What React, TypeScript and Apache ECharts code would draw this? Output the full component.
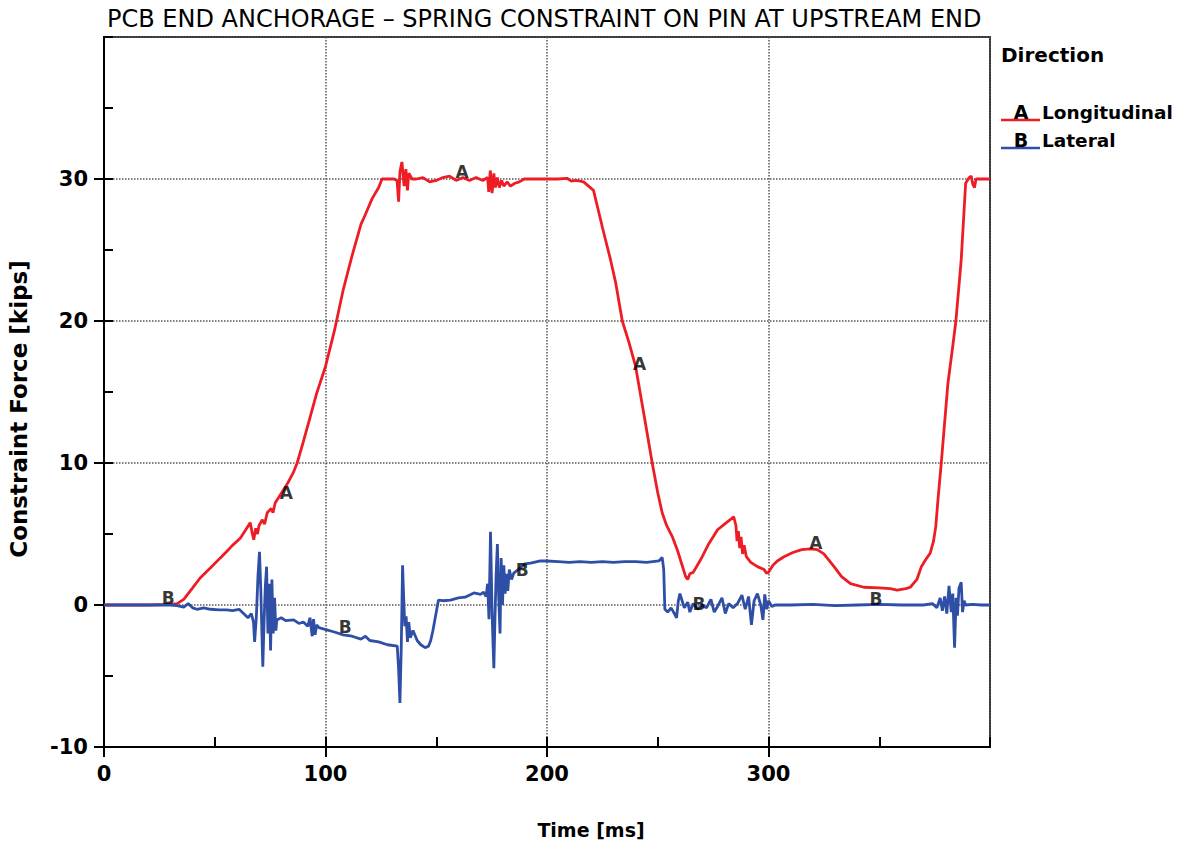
import React, { useEffect, useRef } from "react";
import * as echarts from "echarts";

const titleText = "PCB END ANCHORAGE \u2013 SPRING CONSTRAINT ON PIN AT UPSTREAM END";
const xName = "Time [ms]";
const yName = "Constraint Force [kips]";
const legendTitle = "Direction";
const seriesNames = ["Longitudinal", "Lateral"];
const seriesTags = ["A", "B"];
const seriesColors = ["#ee1c25", "#2f4fa6"];

// Curve A (Longitudinal): [time ms, force kips]
const curveA: number[][] = [
  [0, 0], [10, 0], [20, 0], [30, 0.05], [33, 0.1], [36, 0.4], [40, 1.2], [43.4, 1.9], [48, 2.6], [52.4, 3.3],
  [55.6, 3.8], [58, 4.2], [61.5, 4.7], [64, 5.3], [66, 5.8], [67, 5.0], [67.6, 4.6], [68.5, 5.4], [69.3, 5.0],
  [70, 5.6], [71.5, 6.0], [72.5, 5.7], [73.7, 6.5], [75.5, 6.8], [76.3, 6.5], [77.3, 7.2], [79, 7.6], [81, 8.1],
  [83, 8.6], [85.4, 9.3], [87.2, 10], [90, 11.5], [93, 13.2], [96, 14.9], [100, 16.8], [104, 19.3], [108, 22.2],
  [112, 24.6], [116, 26.8], [118, 27.5], [121, 28.6], [124, 29.4], [125.5, 30], [128, 30], [131, 30],
  [132.3, 29.9], [133, 28.4], [133.6, 30.5], [134.5, 31.2], [135.5, 29.5], [136.3, 30.7], [137, 29.2],
  [137.6, 30.4], [138.4, 30.2], [139, 30], [141, 30], [144, 30.1], [147, 29.8], [150, 29.9], [153, 30.1],
  [156, 30.2], [159, 29.9], [162, 30.1], [165, 29.9], [168, 30.1], [171, 29.9], [173.2, 30.1], [173.7, 29.1],
  [174.4, 30.6], [175.2, 29.0], [176, 30.4], [176.7, 29.4], [177.6, 30.1], [178.5, 29.4], [179.5, 29.9],
  [180.5, 29.5], [182, 29.8], [183.5, 29.5], [185.5, 29.7], [187.5, 29.8], [189.7, 30], [195, 30], [200, 30],
  [205, 30], [209, 30.05], [211, 29.85], [213, 29.9], [215, 29.85], [216.5, 29.8], [218, 29.6], [221, 29.2],
  [225, 26.6], [228.7, 24.3], [231, 22.7], [234, 20], [237, 18.5], [240, 16.8], [244, 13.2], [247.5, 10],
  [250, 7.9], [252, 6.5], [254, 5.6], [256.6, 4.8], [259, 3.8], [261, 2.8], [262.6, 2.0], [263.5, 1.8],
  [264.5, 2.2], [266, 2.3], [269.4, 3.2], [273, 4.3], [277, 5.3], [281, 5.8], [284.3, 6.2], [285.3, 5.6],
  [285.8, 4.5], [286.4, 5.2], [287, 4.0], [287.6, 4.8], [288.3, 3.6], [289, 4.2], [290, 3.4], [292, 3.0],
  [295, 2.7], [298, 2.5], [299, 2.25], [300, 2.3], [302, 2.8], [304, 3.1], [307, 3.4], [311, 3.7], [315, 3.9],
  [319, 3.95], [322, 3.9], [325, 3.6], [329.6, 2.7], [333, 2.0], [337, 1.5], [343, 1.25], [350, 1.2],
  [355, 1.15], [358, 1.05], [362, 1.15], [364, 1.25], [367, 1.8], [369, 2.7], [371, 3.2], [373, 3.65],
  [374.5, 4.5], [375.5, 5.5], [376.5, 7.4], [378, 10], [379.5, 12.8], [381, 15.6], [383, 18], [384.6, 20],
  [386, 22.5], [387, 24.3], [388, 27], [389, 29.7], [390.6, 30.1], [391.5, 30.2], [392.3, 29.6], [393, 29.4],
  [393.7, 30], [396, 30], [400, 30],
];

// Curve B (Lateral): [time ms, force kips]
const curveB: number[][] = [
  [0, 0], [10, 0], [20, 0], [30, 0], [33, -0.05], [36, -0.15], [38, 0.1], [40, -0.2], [42, -0.3], [45, -0.2],
  [48, -0.3], [52, -0.35], [55.5, -0.35], [58, -0.4], [61, -0.3], [63, -0.6], [65, -0.9], [66.5, -0.6],
  [67.5, -1.2], [68, -2.6], [68.8, -0.8], [69.5, 2.0], [70.2, 3.75], [70.8, 1.0], [71.3, -2.0], [71.7, -4.35],
  [72.2, -1.5], [72.8, 1.2], [73.4, 2.7], [74, -2.0], [74.6, 1.5], [75.2, -3.2], [75.8, 1.8], [76.4, -2.0],
  [77, 0.5], [77.6, -1.8], [78, -1.05], [80, -0.9], [82, -1.1], [85.6, -1.05], [88, -1.3], [90, -1.2],
  [92, -1.5], [93, -0.9], [94, -2.2], [94.6, -1.0], [95.3, -2.1], [96, -1.4], [97, -1.6], [100.6, -1.75],
  [104, -1.9], [108, -2.1], [112, -2.2], [116, -2.4], [118, -2.2], [120, -2.5], [124, -2.6], [128, -2.8],
  [132.4, -2.9], [133, -4.5], [133.6, -6.9], [134.2, -3.0], [134.8, 2.8], [135.3, 0.5], [135.8, -1.5],
  [136.4, -0.8], [137, -2.6], [137.6, -1.2], [138.3, -2.3], [139.5, -1.8], [141.4, -2.5], [143, -2.8],
  [145, -3.0], [146.5, -2.9], [147.5, -2.5], [148.5, -1.8], [149.6, -0.85], [151, 0.35], [153, 0.3],
  [156.4, 0.35], [160, 0.5], [163, 0.55], [167, 0.85], [170, 0.75], [171.4, 0.9], [172.5, 0.6], [173.2, 1.5],
  [173.8, -1.0], [174.5, 5.15], [175.2, -0.5], [175.7, -3.0], [176, -4.45], [176.5, -1.0], [177, 2.0],
  [177.6, 4.3], [178.2, 0.5], [178.8, -2.0], [179.3, 3.3], [179.9, 0.0], [180.5, 2.8], [181.1, 0.8],
  [181.7, 2.2], [182.3, 1.0], [183, 2.5], [184, 1.8], [185, 2.25], [187, 2.5], [190, 2.9], [192.6, 2.95],
  [197, 3.1], [200, 3.1], [205, 3.05], [210, 3.0], [215, 3.05], [220, 3.0], [225, 3.05], [230, 3.0],
  [235, 3.05], [240, 3.05], [245, 3.0], [250.5, 3.1], [252, 3.35], [252.7, 2.5], [253.2, -0.3], [254.5, -0.5],
  [256, -0.2], [257.5, -0.6], [258.5, -0.9], [259.3, 0.3], [260, 0.8], [261, 0.3], [262, -0.2], [263.5, 0.2],
  [264.5, -0.5], [266, 0.1], [268, -0.3], [270, 0.0], [272, -0.2], [274, 0.4], [275.5, -0.5], [277, -0.1],
  [279, 0.5], [280.5, -0.6], [282, 0.1], [284, -0.2], [286, 0.1], [288, 0.7], [289.5, -0.3], [291, 0.6],
  [292.3, -1.4], [293.5, 0.3], [295, 0.8], [296.5, 0.0], [297.5, -1.05], [298.3, 0.75], [299.2, -0.3],
  [300, 0.3], [301.5, -0.1], [303, 0.0], [310, 0.0], [320, 0.05], [330, -0.05], [340, 0.0], [350, 0.05],
  [360, 0.0], [370, 0.0], [374, 0.1], [376, -0.2], [377.5, 0.5], [378.5, -0.4], [379.5, 0.6], [380.5, -0.6],
  [381.5, 1.35], [382.5, -0.5], [383.2, 0.8], [384, -3.0], [384.7, 0.5], [385.3, -0.75], [386, 1.2],
  [387, 1.6], [387.6, -0.5], [388.3, 0.3], [389, 0.0], [392, 0.05], [396, 0.0], [400, 0.0],
];

// Curve tag positions (letters drawn along each curve)
const tagsA: number[][] = [[82.3, 7.9], [161.7, 30.5], [241.8, 17.0], [321.4, 4.35]];
const tagsB: number[][] = [[29.0, 0.47], [108.9, -1.57], [188.8, 2.46], [268.6, 0.07], [348.5, 0.42]];

const xMin = 0, xMax = 400, xStep = 100, xMinorStep = 50;
const yMin = -10, yMax = 40, yStep = 10, yMinorStep = 5;

const FONT = "DejaVu Sans";

export default function App() {
  const ref = useRef<HTMLDivElement>(null);
  useEffect(() => {
    if (!ref.current) return;
    const chart = echarts.init(ref.current, null, { renderer: "svg" });
    const gridLeft = 104, gridTop = 37, gridW = 886, gridH = 710;
    const tagSeries = (name: string, data: number[][], tag: string) => ({
      name,
      type: "scatter",
      data,
      symbolSize: 1,
      itemStyle: { color: "rgba(0,0,0,0)" },
      silent: true,
      z: 5,
      label: {
        show: true,
        position: "inside",
        formatter: tag,
        color: "#000",
        fontFamily: FONT,
        fontWeight: "bold",
        fontSize: 17,
      },
    });
    const legendY = [112, 140];
    const graphics: any[] = [
      {
        type: "text",
        left: 1001,
        top: 45,
        style: { text: legendTitle, fontFamily: FONT, fontWeight: "bold", fontSize: 20, fill: "#000" },
      },
      {
        type: "text",
        x: 591,
        y: 830,
        style: { text: xName, fontFamily: FONT, fontWeight: "bold", fontSize: 19, fill: "#000", align: "center", verticalAlign: "middle" },
      },
      {
        type: "text",
        x: 19,
        y: 409,
        rotation: Math.PI / 2,
        style: { text: yName, fontFamily: FONT, fontWeight: "bold", fontSize: 23, fill: "#000", align: "center", verticalAlign: "middle" },
      },
    ];
    seriesNames.forEach((n, i) => {
      graphics.push({
        type: "line",
        shape: { x1: 1001, y1: legendY[i] + 8, x2: 1040, y2: legendY[i] + 8 },
        style: { stroke: seriesColors[i], lineWidth: 2.5 },
      });
      graphics.push({
        type: "text",
        x: 1021,
        y: legendY[i],
        style: { text: seriesTags[i], fontFamily: FONT, fontWeight: "bold", fontSize: 19, fill: "#000", align: "center", verticalAlign: "middle" },
      });
      graphics.push({
        type: "text",
        x: 1042,
        y: legendY[i],
        style: { text: n, fontFamily: FONT, fontWeight: "bold", fontSize: 18.5, fill: "#000", align: "left", verticalAlign: "middle" },
      });
    });
    chart.setOption({
      animation: false,
      backgroundColor: "#fff",
      title: {
        text: titleText,
        left: 102,
        top: 2,
        textStyle: { fontFamily: FONT, fontSize: 24, fontWeight: "normal", color: "#000" },
      },
      grid: {
        left: gridLeft,
        top: gridTop,
        width: gridW,
        height: gridH,
        show: true,
        borderColor: "#333",
        borderWidth: 2,
      },
      xAxis: [
        {
          type: "value",
          min: xMin,
          max: xMax,
          interval: xStep,
          position: "bottom",
          axisLine: { show: true, onZero: false, lineStyle: { color: "#000", width: 2 } },
          axisTick: { show: true, inside: false, length: 10, lineStyle: { color: "#000", width: 2 } },
          axisLabel: {
            show: true,
            margin: 16,
            showMaxLabel: false,
            fontFamily: FONT,
            fontWeight: "bold",
            fontSize: 21,
            color: "#000",
          },
          splitLine: { show: true, lineStyle: { color: "#555", type: "dotted", width: 1.5 } },
        },
        {
          type: "value",
          min: xMin,
          max: xMax,
          interval: xMinorStep,
          position: "bottom",
          axisLine: { show: false, onZero: false },
          axisTick: { show: true, inside: true, length: 10, lineStyle: { color: "#000", width: 2 } },
          axisLabel: { show: false },
          splitLine: { show: false },
        },
      ],
      yAxis: [
        {
          type: "value",
          min: yMin,
          max: yMax,
          interval: yStep,
          position: "left",
          axisLine: { show: true, onZero: false, lineStyle: { color: "#000", width: 2 } },
          axisTick: { show: true, inside: false, length: 10, lineStyle: { color: "#000", width: 2 } },
          axisLabel: {
            show: true,
            margin: 16,
            showMaxLabel: false,
            fontFamily: FONT,
            fontWeight: "bold",
            fontSize: 21,
            color: "#000",
          },
          splitLine: { show: true, lineStyle: { color: "#555", type: "dotted", width: 1.5 } },
        },
        {
          type: "value",
          min: yMin,
          max: yMax,
          interval: yMinorStep,
          position: "left",
          axisLine: { show: false, onZero: false },
          axisTick: { show: true, inside: true, length: 9, lineStyle: { color: "#000", width: 2 } },
          axisLabel: { show: false },
          splitLine: { show: false },
        },
      ],
      series: [
        {
          name: seriesNames[0],
          type: "line",
          data: curveA,
          showSymbol: false,
          symbol: "none",
          lineStyle: { color: seriesColors[0], width: 2.8 },
          z: 3,
        },
        {
          name: seriesNames[1],
          type: "line",
          data: curveB,
          showSymbol: false,
          symbol: "none",
          lineStyle: { color: seriesColors[1], width: 2.8 },
          z: 3,
        },
        tagSeries("tagA", tagsA, seriesTags[0]),
        tagSeries("tagB", tagsB, seriesTags[1]),
      ],
      graphic: graphics,
    });
    return () => chart.dispose();
  }, []);
  return (
    <div
      ref={ref}
      style={{ position: "fixed", left: 0, top: 0, width: 1181, height: 845, background: "#fff" }}
    />
  );
}
